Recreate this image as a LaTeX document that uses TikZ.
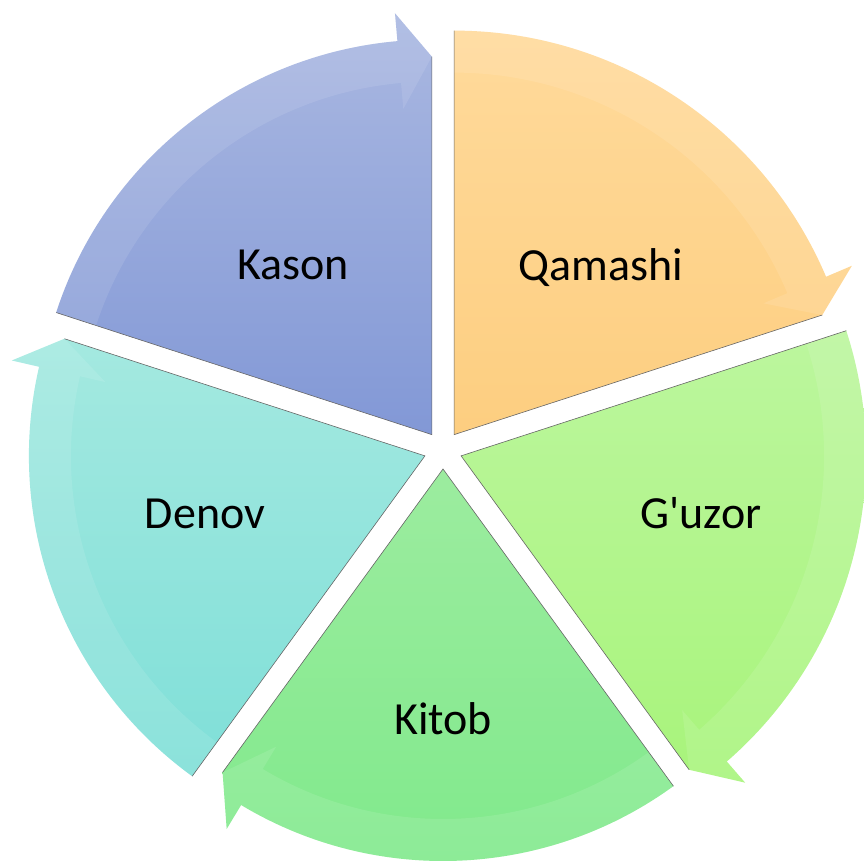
\documentclass[tikz,border=0pt]{standalone}
\usepackage{fontspec}
\setmainfont{Carlito}
\usetikzlibrary{calc}
\definecolor{kasT}{HTML}{AAB8E1}
\definecolor{kasB}{HTML}{8298D6}
\definecolor{qamT}{HTML}{FFDA9B}
\definecolor{qamB}{HTML}{FDCE80}
\definecolor{guzT}{HTML}{BCF69E}
\definecolor{guzB}{HTML}{A8F47B}
\definecolor{kitT}{HTML}{9CEC9F}
\definecolor{kitB}{HTML}{7FE98B}
\definecolor{denT}{HTML}{A4E9E0}
\definecolor{denB}{HTML}{7FDFD8}
\tikzset{
  segedge/.style={draw=black!60, line width=0.6pt},
  seglabel/.style={font=\fontsize{46}{55}\selectfont, text=black, anchor=base, inner sep=0pt},
  bandlight/.style={fill=white, fill opacity=0.10}
}
\begin{document}
\begin{tikzpicture}[x=1pt,y=1pt]
\useasboundingbox (0,0) rectangle (864,861);
\coordinate (C) at (443,411);
\foreach \nm/\lo/\R/\ct/\cb in {kason/90/395/kasT/kasB, qamashi/18/404/qamT/qamB, guzor/-54/405/guzT/guzB, kitob/234/392/kitT/kitB, denov/162/396/denT/denB}{
  \pgfmathsetmacro{\hi}{\lo+72}
  \pgfmathsetmacro{\bis}{\lo+36}
  \pgfmathsetmacro{\ab}{\lo+5}
  \pgfmathsetmacro{\Ro}{\R+28}
  \pgfmathsetmacro{\Rt}{\R-17}
  \pgfmathsetmacro{\Rb}{\R-68}
  \pgfmathsetmacro{\Ri}{\R-42}
  \coordinate (T-\nm) at ($(C)+(\bis:19)$);
  \begin{scope}[shift={(T-\nm)}]
    \path[top color=\ct, bottom color=\cb]
      (0,0) -- (\hi:\R) arc[start angle=\hi, end angle=\ab, radius=\R]
      -- (\ab:\Ro) -- (\lo:\Rt) -- cycle;
    \path[bandlight]
      (\hi:\R) arc[start angle=\hi, end angle=\ab, radius=\R]
      -- (\ab:\Ro) -- (\lo:\Rt) -- (\ab:\Rb) -- (\ab:\Ri)
      arc[start angle=\ab, end angle=\hi, radius=\Ri] -- cycle;
    \draw[segedge] (\hi:\R) -- (0,0) -- (\lo:\Rt);
  \end{scope}
}
\node[seglabel] (lkason)   at (293,581) {Kason};
\node[seglabel] (lqamashi) at (601,580) {Qamashi};
\node[seglabel] (lguzor)   at (701,332) {G\textquotesingle uzor};
\node[seglabel] (lkitob)   at (443,126) {Kitob};
\node[seglabel] (ldenov)   at (205,332) {Denov};
\end{tikzpicture}
\end{document}
